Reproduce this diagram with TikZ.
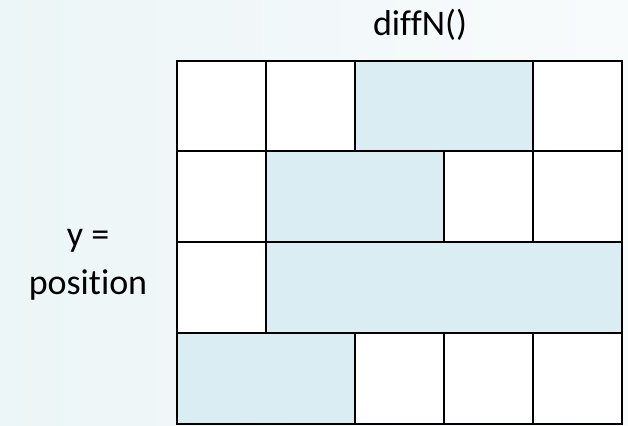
\documentclass[tikz,border=0pt]{standalone}
\usepackage{fontspec}
\setmainfont{Carlito}[Ligatures=NoCommon]
\definecolor{slot}{HTML}{DAEDF3}
\definecolor{bgleft}{HTML}{ECF5F7}
\definecolor{bgright}{HTML}{F8FBFC}
\begin{document}
\begin{tikzpicture}[x=1pt,y=-1pt,line width=1.8pt]
\useasboundingbox (0,0) rectangle (628,425);
\shade[left color=bgleft,right color=bgright] (0,0) rectangle (628,425);
% row 1
\filldraw[fill=white] (177,61) rectangle (266,151);
\filldraw[fill=white] (266,61) rectangle (355,151);
\filldraw[fill=slot] (355,61) rectangle (533,151);
\filldraw[fill=white] (533,61) rectangle (622,151);
% row 2
\filldraw[fill=white] (177,151) rectangle (266,242);
\filldraw[fill=slot] (266,151) rectangle (444,242);
\filldraw[fill=white] (444,151) rectangle (533,242);
\filldraw[fill=white] (533,151) rectangle (622,242);
% row 3
\filldraw[fill=white] (177,242) rectangle (266,333);
\filldraw[fill=slot] (266,242) rectangle (622,333);
% row 4
\filldraw[fill=slot] (177,333) rectangle (355,424);
\filldraw[fill=white] (355,333) rectangle (444,424);
\filldraw[fill=white] (444,333) rectangle (533,424);
\filldraw[fill=white] (533,333) rectangle (622,424);
% labels
\node[anchor=base,font=\fontsize{36}{42}\selectfont] (title) at (420,36) {diffN()};
\node[anchor=base,font=\fontsize{36}{42}\selectfont] (ylab) at (88,246) {y =};
\node[anchor=base,font=\fontsize{36}{42}\selectfont] (ylab2) at (88,294) {position};
\end{tikzpicture}
\end{document}
